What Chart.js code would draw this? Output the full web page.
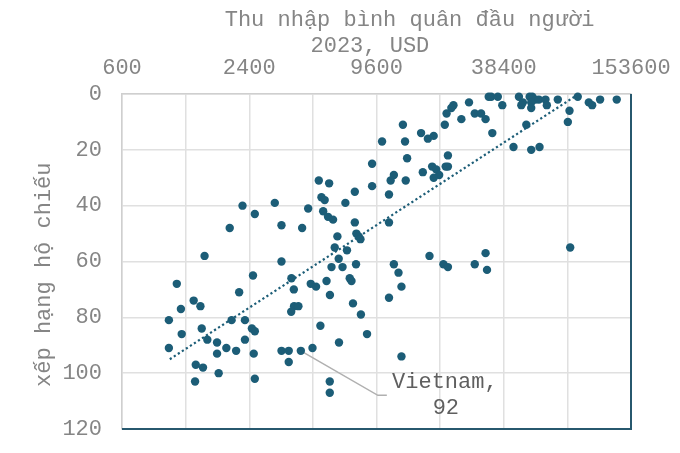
<!DOCTYPE html>
<html lang="vi">
<head>
<meta charset="utf-8">
<title>Thu nhập và xếp hạng hộ chiếu</title>
<script src="https://cdn.jsdelivr.net/npm/chart.js@4.4.1/dist/chart.umd.min.js"></script>
<style>
    html, body { margin: 0; padding: 0; background: #ffffff; }
    canvas { display: block; }
</style>
</head>
<body>
<canvas id="passportChart" width="680" height="453"></canvas>
<script>
// Data: income per head (USD, 2023) and passport rank
const income = [
    32600, 33500, 36000, 45300, 50900, 86000, 26300, 37800, 47300, 52400,
    54300, 56300, 60500, 51800, 46500, 51800, 61400, 69200, 97000, 100600,
    109700, 131500, 78600, 77200, 28000, 30000, 31500, 24200, 49100, 33900,
    42700, 51800, 56700, 79200, 31500, 28000, 32000, 22200, 21700, 20600,
    20200, 12800, 15600, 16800, 17900, 13100, 10200, 20900, 13400, 9150,
    17600, 18400, 20400, 20900, 15900, 19000, 17900, 11600, 11200, 13200,
    5120, 5730, 9150, 7580, 11000, 5270, 5460, 6840, 4560, 5370,
    5660, 5980, 7580, 11000, 4270, 6270, 7710, 7910, 8060, 6090,
    6960, 6360, 7680, 11600, 17100, 19900, 20900, 2230, 3170, 2550,
    1940, 3410, 1475, 3410, 2500, 1090, 2150, 1310, 1410, 1140,
    1000, 1980, 2290, 1430, 2470, 2550, 1150, 1520, 1690, 2290,
    1000, 1870, 2080, 1690, 2520, 3410, 3690, 3690, 1340, 1450,
    1720, 1330, 2550, 5880, 6630, 3800, 3900, 4690, 4970, 5570,
    7170, 7310, 12200, 12600, 11000, 5780, 7430, 8100, 3910, 4100,
    3790, 5210, 8660, 6380, 4780, 4210, 12600, 5770, 5770
];
const rank = [
    1, 1, 1, 1, 1, 1, 3, 4, 3, 1,
    2, 2, 2, 3, 4, 5, 4, 2, 3, 4,
    2, 2, 6, 10, 7, 7, 9, 9, 11, 14,
    19, 20, 19, 55, 57, 61, 63, 4, 5, 7,
    11, 11, 14, 16, 15, 17, 17, 22, 23, 25,
    26, 27, 26, 26, 28, 29, 30, 29, 31, 31,
    31, 32, 33, 35, 36, 37, 38, 39, 41, 42,
    44, 45, 46, 46, 48, 51, 50, 51, 52, 55,
    56, 59, 61, 61, 58, 61, 62, 40, 39, 43,
    48, 47, 58, 60, 65, 68, 71, 74, 76, 77,
    81, 81, 81, 84, 84, 85, 86, 88, 89, 88,
    91, 91, 92, 93, 93, 92, 92, 96, 97, 98,
    100, 103, 102, 62, 62, 66, 70, 68, 69, 67,
    66, 67, 64, 69, 73, 72, 75, 79, 76, 76,
    78, 83, 86, 89, 91, 92, 94, 103, 107
];
const highlightIndex = 145; // Vietnam
const highlightLabel = ['Vietnam,', '92'];

// dotted trend line (two ends)
const trendIncome = [1010, 84500];
const trendRank = [95, 0.6];

// axis ticks
const incomeGrid = [600, 1200, 2400, 4800, 9600, 19200, 38400, 76800, 153600];
const incomeLabels = [600, 2400, 9600, 38400, 153600];
const rankTicks = [0, 20, 40, 60, 80, 100, 120];

const DOT = '#1c5d77';
const GREY = '#858585';
const GRID = '#e0e0e0';
const EDGE = '#cfcfcf';
const FRAME = '#27586e';

Chart.defaults.font.family = "'Liberation Mono', 'Courier New', monospace";
Chart.defaults.font.size = 22;

// dark right/bottom frame, plus the Vietnam callout
const framePlugin = {
    id: 'frame',
    beforeDatasetsDraw(chart) {
        const { ctx, chartArea: a } = chart;
        ctx.save();
        ctx.strokeStyle = FRAME;
        ctx.lineWidth = 2;
        ctx.beginPath();
        ctx.moveTo(a.left, a.bottom);
        ctx.lineTo(a.right, a.bottom);
        ctx.lineTo(a.right, a.top);
        ctx.stroke();

        // leader line for the highlighted point
        const pt = chart.getDatasetMeta(0).data[highlightIndex];
        ctx.strokeStyle = '#b0b0b0';
        ctx.lineWidth = 1.5;
        ctx.beginPath();
        ctx.moveTo(pt.x, pt.y);
        ctx.lineTo(pt.x + 77, pt.y + 44.5);
        ctx.lineTo(pt.x + 86, pt.y + 44.5);
        ctx.stroke();
        ctx.restore();
    },
    afterDraw(chart) {
        const { ctx } = chart;
        const pt = chart.getDatasetMeta(0).data[highlightIndex];
        ctx.save();
        ctx.fillStyle = '#5f5f5f';
        ctx.font = "22px 'Liberation Mono', 'Courier New', monospace";
        ctx.textAlign = 'center';
        ctx.textBaseline = 'middle';
        ctx.fillText(highlightLabel[0], pt.x + 144, pt.y + 31.5);
        ctx.fillText(highlightLabel[1], pt.x + 145, pt.y + 57);
        ctx.restore();
    }
};

new Chart(document.getElementById('passportChart'), {
    type: 'scatter',
    data: {
        datasets: [
            {
                label: 'Quốc gia',
                data: income.map((v, i) => ({ x: v, y: rank[i] })),
                backgroundColor: DOT,
                borderWidth: 0,
                pointRadius: 4.2,
                clip: false
            },
            {
                label: 'Xu hướng',
                data: trendIncome.map((v, i) => ({ x: v, y: trendRank[i] })),
                showLine: true,
                borderColor: DOT,
                borderWidth: 2.2,
                borderDash: [2.2, 2.6],
                pointRadius: 0,
                fill: false,
                clip: false
            }
        ]
    },
    options: {
        responsive: false,
        animation: false,
        layout: { padding: { left: 0, top: 0, right: 49, bottom: 24 } },
        plugins: {
            legend: { display: false },
            tooltip: { enabled: false }
        },
        scales: {
            x: {
                type: 'logarithmic',
                position: 'top',
                min: 600,
                max: 153600,
                afterBuildTicks: s => { s.ticks = incomeGrid.map(v => ({ value: v })); },
                afterFit: s => {
                    s.height = 94;
                    s.paddingLeft = 0;
                    s.paddingRight = 0;
                },
                ticks: {
                    autoSkip: false,
                    maxRotation: 0,
                    padding: 13,
                    color: GREY,
                    callback: v => incomeLabels.includes(v) ? String(v) : ''
                },
                grid: { color: GRID, lineWidth: 1.5, drawTicks: false },
                border: { color: EDGE, width: 1.5 },
                title: {
                    display: true,
                    text: ['     Thu nhập bình quân đầu người', '2023, USD '],
                    color: GREY,
                    padding: { top: 7, bottom: 0 },
                    font: { size: 22, lineHeight: 1.2 }
                }
            },
            y: {
                type: 'linear',
                position: 'left',
                reverse: true,
                min: 0,
                max: 120,
                afterBuildTicks: s => { s.ticks = rankTicks.map(v => ({ value: v })); },
                afterFit: s => {
                    s.width = 122;
                    s.paddingTop = 0;
                    s.paddingBottom = 0;
                },
                ticks: { padding: 20, color: GREY },
                grid: { color: GRID, lineWidth: 1.5, drawTicks: false },
                border: { color: EDGE, width: 1.5 },
                title: {
                    display: true,
                    text: 'xếp hạng hộ chiếu  ',
                    color: GREY,
                    padding: { top: 31, bottom: 0 },
                    font: { size: 22, lineHeight: 1.2 }
                }
            }
        }
    },
    plugins: [framePlugin]
});
</script>
</body>
</html>
